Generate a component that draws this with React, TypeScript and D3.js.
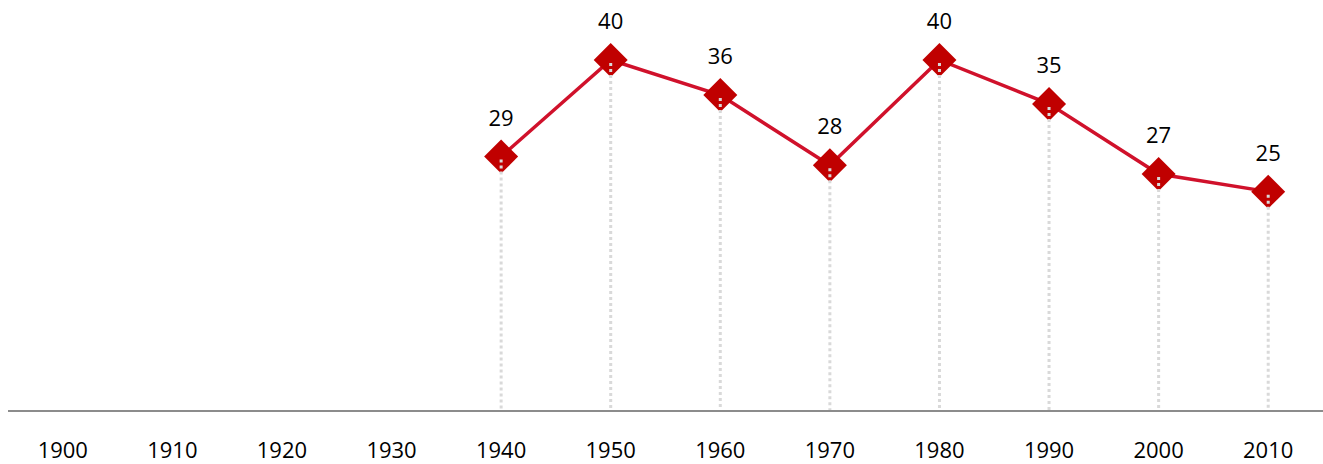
import React from "react";
import * as d3 from "d3";

const categories = ["1900","1910","1920","1930","1940","1950","1960","1970","1980","1990","2000","2010"];
const valueYears = ["1940","1950","1960","1970","1980","1990","2000","2010"];
const values = [29, 40, 36, 28, 40, 35, 27, 25];

const W = 1323, H = 464;

export default function App() {
  const x = d3.scaleBand<string>().domain(categories).range([8, 1323]);
  const y = d3.scaleLinear().domain([0, 40]).range([411, 60]);
  const cx = (c: string) => (x(c) as number) + x.bandwidth() / 2;
  const pts = valueYears.map((c, i) => ({ c, v: values[i] }));
  const line = d3.line<{ c: string; v: number }>().x(d => cx(d.c)).y(d => y(d.v));
  const font = "'Open Sans', 'Noto Sans', sans-serif";
  const r = 17;
  return (
    <svg width={W} height={H} style={{ position: "absolute", left: 0, top: 0, display: "block" }}>
      <rect width={W} height={H} fill="#fff" />
      <path d={line(pts) || ""} fill="none" stroke="#d0112b" strokeWidth={3.5} />
      {pts.map(p => (
        <path key={"m" + p.c}
          d={`M${cx(p.c)},${y(p.v) - r}L${cx(p.c) + r},${y(p.v)}L${cx(p.c)},${y(p.v) + r}L${cx(p.c) - r},${y(p.v)}Z`}
          fill="#c00000" />
      ))}
      {pts.map(p => (
        <line key={"d" + p.c} x1={cx(p.c)} x2={cx(p.c)} y1={y(p.v) + 3} y2={y(0)}
          stroke="#d9d9d9" strokeWidth={3} strokeDasharray="3 3" />
      ))}
      <line x1={8} x2={1323} y1={y(0)} y2={y(0)} stroke="#8c8c8c" strokeWidth={2} />
      {pts.map(p => (
        <text key={"l" + p.c} x={cx(p.c)} y={y(p.v) - 31} textAnchor="middle"
          fontFamily={font} fontSize={22} fill="#000">{p.v}</text>
      ))}
      {categories.map(c => (
        <text key={"t" + c} x={cx(c)} y={458} textAnchor="middle"
          fontFamily={font} fontSize={22} fill="#000">{c}</text>
      ))}
    </svg>
  );
}
